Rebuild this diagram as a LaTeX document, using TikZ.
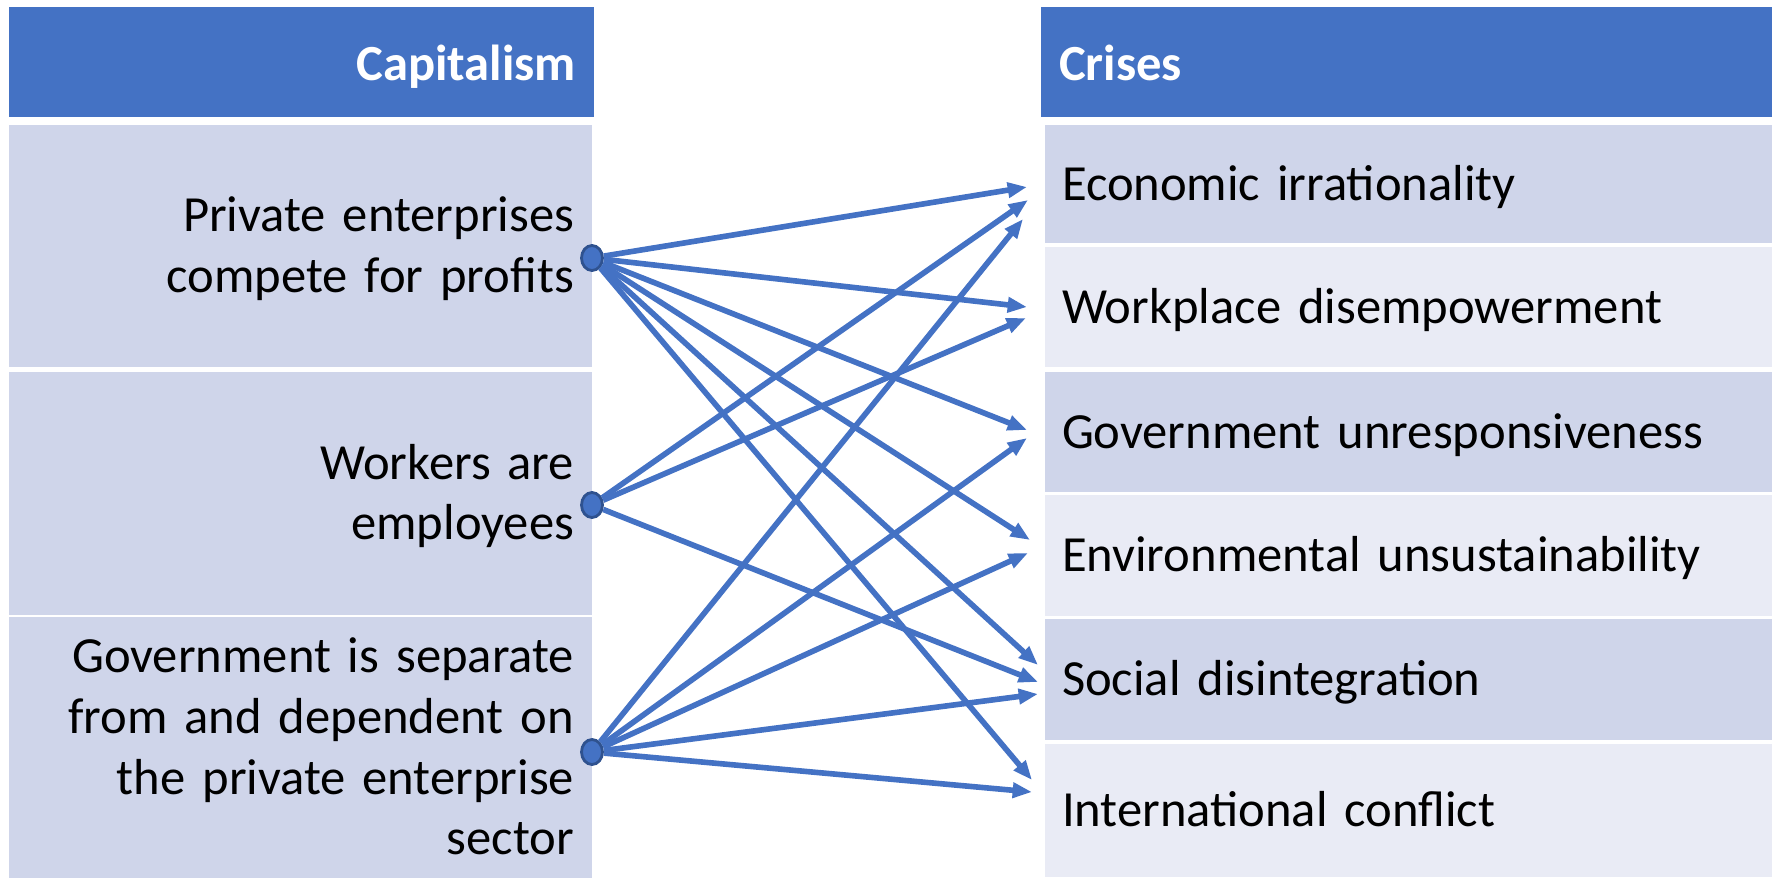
\documentclass[tikz,border=0pt]{standalone}
\usepackage{fontspec}
\setmainfont{Carlito}
\usetikzlibrary{shapes.geometric,arrows.meta}
\definecolor{headblue}{HTML}{4472C4}
\definecolor{rowdark}{HTML}{CFD5EA}
\definecolor{rowlight}{HTML}{E9EBF5}
\definecolor{dotedge}{HTML}{2F528F}
\begin{document}
\begin{tikzpicture}
  \tikzstyle{every node}=[font=\fontsize{14.4}{17.3}\selectfont]
  \tikzstyle{head}=[rectangle, fill=headblue, text=white, font=\fontsize{14.4}{17.3}\selectfont\bfseries, minimum height=1.10cm, inner xsep=0.18cm, text height=0.48cm, text depth=0.12cm]
  \tikzstyle{cause}=[rectangle, fill=rowdark, minimum width=5.83cm, inner xsep=0.18cm, text width=5.47cm, align=right, text height=0.44cm, text depth=0.73cm]
  \tikzstyle{crisis}=[rectangle, minimum width=7.27cm, inner xsep=0.17cm, text width=6.93cm, align=left, text height=0.44cm, text depth=0.12cm]
  \tikzstyle{link}=[draw=headblue, line width=1.6pt, -{Triangle[length=5.5pt,width=4.2pt]}]
  \tikzstyle{dot}=[ellipse, fill=headblue, draw=dotedge, line width=0.8pt, minimum width=0.21cm, minimum height=0.25cm, inner sep=0pt]
  \useasboundingbox (0,0) rectangle (17.72,-8.77);
  \node[head, minimum width=5.85cm, text width=5.49cm, align=right] (capital) at (3.015,-0.62) {Capitalism};
  \node[head, minimum width=7.30cm, text width=6.96cm, align=left] (crises) at (14.07,-0.62) {Crises};
  \node[cause, minimum height=2.42cm] (profits) at (3.005,-2.46) {Private enterprises\\compete for profits};
  \node[cause, minimum height=2.43cm] (workers) at (3.005,-4.935) {Workers are\\employees};
  \node[cause, minimum height=2.58cm, text depth=1.95cm] (govt) at (3.005,-7.48) {Government is separate\\from and dependent on\\the private enterprise\\sector};
  \node[crisis, fill=rowdark, minimum height=1.18cm] (econ) at (14.085,-1.84) {Economic irrationality};
  \node[crisis, fill=rowlight, minimum height=1.20cm] (work) at (14.085,-3.07) {Workplace disempowerment};
  \node[crisis, fill=rowdark, minimum height=1.20cm] (unresp) at (14.085,-4.32) {Government unresponsiveness};
  \node[crisis, fill=rowlight, minimum height=1.21cm] (env) at (14.085,-5.555) {Environmental unsustainability};
  \node[crisis, fill=rowdark, minimum height=1.21cm] (social) at (14.085,-6.795) {Social disintegration};
  \node[crisis, fill=rowlight, minimum height=1.33cm] (intl) at (14.085,-8.105) {International conflict};
  \node[dot] (p1) at (5.92,-2.58) {};
  \node[dot] (p2) at (5.92,-5.05) {};
  \node[dot] (p3) at (5.92,-7.52) {};
  \coordinate (p1econ) at (10.27,-1.87);
  \coordinate (p1work) at (10.27,-3.07);
  \coordinate (p1unresp) at (10.27,-4.30);
  \coordinate (p1env) at (10.30,-5.40);
  \coordinate (p1social) at (10.38,-6.65);
  \coordinate (p1intl) at (10.32,-7.80);
  \coordinate (p2econ) at (10.28,-2.00);
  \coordinate (p2work) at (10.26,-3.18);
  \coordinate (p2social) at (10.38,-6.82);
  \coordinate (p3econ) at (10.23,-2.19);
  \coordinate (p3unresp) at (10.27,-4.38);
  \coordinate (p3env) at (10.28,-5.53);
  \coordinate (p3social) at (10.38,-6.94);
  \coordinate (p3intl) at (10.32,-7.92);
  \draw[link] (p1) -- (p1econ);
  \draw[link] (p1) -- (p1work);
  \draw[link] (p1) -- (p1unresp);
  \draw[link] (p1) -- (p1env);
  \draw[link] (p1) -- (p1social);
  \draw[link] (p1) -- (p1intl);
  \draw[link] (p2) -- (p2econ);
  \draw[link] (p2) -- (p2work);
  \draw[link] (p2) -- (p2social);
  \draw[link] (p3) -- (p3econ);
  \draw[link] (p3) -- (p3unresp);
  \draw[link] (p3) -- (p3env);
  \draw[link] (p3) -- (p3social);
  \draw[link] (p3) -- (p3intl);
\end{tikzpicture}
\end{document}
